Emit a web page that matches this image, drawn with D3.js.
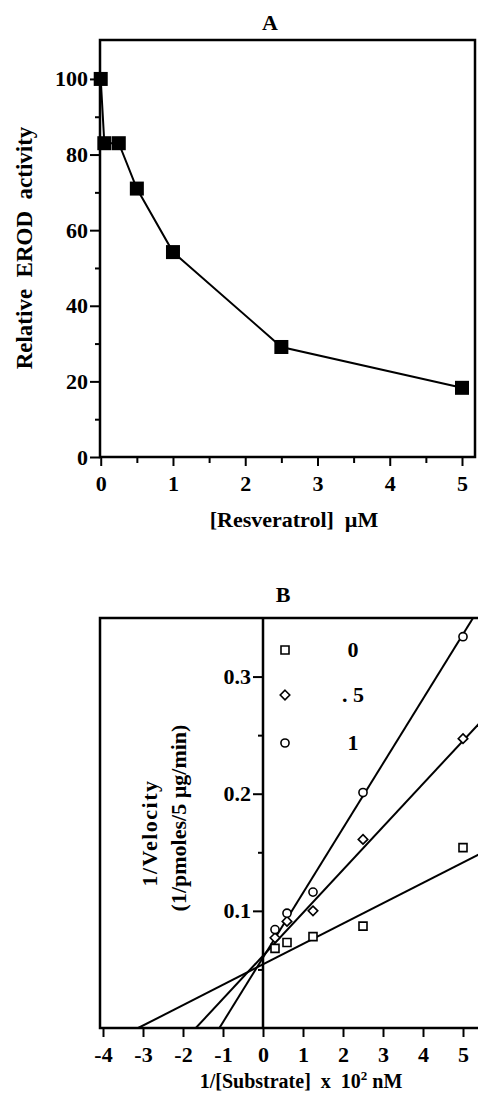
<!DOCTYPE html>
<html>
<head>
<meta charset="utf-8">
<script src="https://cdn.jsdelivr.net/npm/d3@7"></script>
<style>
  body { margin: 0; background: #fff; }
  text { font-family: "Liberation Serif", "Times New Roman", serif; font-weight: bold; fill: #000; white-space: pre; }
</style>
</head>
<body>
<svg id="fig" width="478" height="1094"></svg>
<script>
// ---- panel A data: EROD activity vs resveratrol
var resveratrolUM = [0, 0.05, 0.25, 0.5, 1, 2.5, 5];
var relativeErod  = [100, 83, 83, 71, 54.2, 29.1, 18.3];
var ticksAx = [0, 1, 2, 3, 4, 5];
var ticksAy = [0, 20, 40, 60, 80, 100];

// ---- panel B data: Lineweaver-Burk, 1/[S] x 10^2 nM
var invSubstrate = [0.3, 0.6, 1.25, 2.5, 5];
var vel0   = [0.068, 0.073, 0.078, 0.087, 0.154];
var vel05  = [0.077, 0.091, 0.100, 0.161, 0.247];
var vel1   = [0.084, 0.098, 0.116, 0.201, 0.334];
var seriesNames = ["0", ". 5", "1"];
// fitted lines: x intercept (-1/Km) and slope
var fitXInt  = [-3.12, -1.68, -1.09];
var fitSlope = [0.0174, 0.0367, 0.0552];
var ticksBx = [-4, -3, -2, -1, 0, 1, 2, 3, 4, 5];
var ticksBy = [0.1, 0.2, 0.3];

var svg = d3.select("#fig");

function styleTicks(g, size) {
  g.selectAll(".tick line").attr("stroke", "#000").attr("stroke-width", 2);
  g.selectAll(".tick text")
    .attr("font-size", size).attr("font-family", "Liberation Serif").attr("font-weight", "bold")
    .style("font-size", size + "px");
}

// ================= Panel A =================
var A = {left: 100, right: 475, top: 40, bottom: 457};
var xA = d3.scaleLinear().domain([-0.01, 5.18]).range([A.left, A.right]);
var yA = d3.scaleLinear().domain([0, 110.3]).range([A.bottom, A.top]);

var gA = svg.append("g");

// minor ticks
gA.append("g").attr("transform", "translate(" + A.left + ",0)")
  .call(d3.axisLeft(yA).tickValues([10, 30, 50, 70, 90]).tickSize(5).tickFormat(""))
  .call(function(g){ g.select(".domain").remove(); });
gA.append("g").attr("transform", "translate(0," + A.bottom + ")")
  .call(d3.axisBottom(xA).tickValues([0.5, 1.5, 2.5, 3.5, 4.5]).tickSize(6).tickFormat(""))
  .call(function(g){ g.select(".domain").remove(); });

// major ticks + labels
gA.append("g").attr("transform", "translate(" + A.left + ",0)")
  .call(d3.axisLeft(yA).tickValues(ticksAy).tickSize(10).tickPadding(2).tickFormat(d3.format("d")))
  .call(function(g){ g.select(".domain").remove(); });
gA.append("g").attr("transform", "translate(0," + A.bottom + ")")
  .call(d3.axisBottom(xA).tickValues(ticksAx).tickSize(9).tickPadding(9).tickFormat(d3.format("d")))
  .call(function(g){ g.select(".domain").remove(); });

styleTicks(gA, 22);

// frame
gA.append("rect")
  .attr("x", A.left).attr("y", A.top)
  .attr("width", A.right - A.left).attr("height", A.bottom - A.top)
  .attr("fill", "none").attr("stroke", "#000").attr("stroke-width", 2.5);

var lineA = d3.line()
  .x(function(d, i){ return xA(resveratrolUM[i]); })
  .y(function(d){ return yA(d); });

gA.append("path").datum(relativeErod)
  .attr("d", lineA).attr("fill", "none").attr("stroke", "#000").attr("stroke-width", 2);

var sqA = 14;
gA.selectAll("rect.pt").data(relativeErod).enter().append("rect")
  .attr("class", "pt")
  .attr("x", function(d, i){ return xA(resveratrolUM[i]) - sqA / 2; })
  .attr("y", function(d){ return yA(d) - sqA / 2; })
  .attr("width", sqA).attr("height", sqA)
  .attr("fill", "#000");

gA.append("text").attr("x", 270).attr("y", 30).attr("text-anchor", "middle")
  .style("font-size", "22px").text("A");
gA.append("text").attr("x", 294).attr("y", 527).attr("text-anchor", "middle")
  .style("font-size", "22px").text("[Resveratrol]  \u00B5M");
gA.append("text").attr("transform", "translate(32,248) rotate(-90)").attr("text-anchor", "middle")
  .style("font-size", "23px").text("Relative  EROD  activity");

// ================= Panel B =================
var B = {left: 100, right: 500, top: 618, bottom: 1028};
var xB = d3.scaleLinear().domain([-4.075, 5.925]).range([B.left, B.right]);
var yB = d3.scaleLinear().domain([0, 0.35]).range([B.bottom, B.top]);

var gB = svg.append("g");

gB.append("clipPath").attr("id", "clipB").append("rect")
  .attr("x", B.left).attr("y", B.top)
  .attr("width", B.right - B.left).attr("height", B.bottom - B.top);

// y axis sits at x = 0
gB.append("g").attr("transform", "translate(" + xB(0) + ",0)")
  .call(d3.axisLeft(yB).tickValues([0.05, 0.15, 0.25]).tickSize(5).tickFormat(""))
  .call(function(g){ g.select(".domain").remove(); });
gB.append("g").attr("transform", "translate(" + xB(0) + ",0)")
  .call(d3.axisLeft(yB).tickValues(ticksBy).tickSize(10).tickPadding(2).tickFormat(d3.format(".1f")))
  .call(function(g){ g.select(".domain").remove(); });
gB.append("g").attr("transform", "translate(0," + B.bottom + ")")
  .call(d3.axisBottom(xB).tickValues(ticksBx).tickSize(9).tickPadding(9).tickFormat(d3.format("d")))
  .call(function(g){ g.select(".domain").remove(); });

styleTicks(gB, 22);
gB.selectAll(".tick text").filter(function(d){ return d < 0; }).text(function(d){ return "-" + Math.abs(d); });

gB.append("rect")
  .attr("x", B.left).attr("y", B.top)
  .attr("width", B.right - B.left).attr("height", B.bottom - B.top)
  .attr("fill", "none").attr("stroke", "#000").attr("stroke-width", 2.5);
gB.append("line")
  .attr("x1", xB(0)).attr("x2", xB(0)).attr("y1", B.top).attr("y2", B.bottom)
  .attr("stroke", "#000").attr("stroke-width", 2.5);

// fitted lines
var fitLines = gB.append("g").attr("clip-path", "url(#clipB)");
fitXInt.forEach(function(x0, k){
  var x1 = xB.domain()[1];
  fitLines.append("line")
    .attr("x1", xB(x0)).attr("y1", yB(0))
    .attr("x2", xB(x1)).attr("y2", yB(fitSlope[k] * (x1 - x0)))
    .attr("stroke", "#000").attr("stroke-width", 2);
});

// markers
var sym = [
  d3.symbol().type(d3.symbolSquare).size(64),
  d3.symbol().type(d3.symbolDiamond2).size(58),
  d3.symbol().type(d3.symbolCircle).size(52)
];
var seriesB = [vel0, vel05, vel1];
seriesB.forEach(function(vals, k){
  gB.append("g").selectAll("path").data(vals).enter().append("path")
    .attr("d", sym[k])
    .attr("transform", function(d, i){ return "translate(" + xB(invSubstrate[i]) + "," + yB(d) + ")"; })
    .attr("fill", "#fff").attr("stroke", "#000").attr("stroke-width", 1.6);
});

// legend
var legY = [650, 695, 743];
seriesNames.forEach(function(name, k){
  gB.append("path").attr("d", sym[k])
    .attr("transform", "translate(285," + legY[k] + ")")
    .attr("fill", "#fff").attr("stroke", "#000").attr("stroke-width", 1.6);
  gB.append("text").attr("x", 353).attr("y", legY[k] + 7).attr("text-anchor", "middle")
    .style("font-size", "22px").text(name);
});

gB.append("text").attr("x", 283).attr("y", 602).attr("text-anchor", "middle")
  .style("font-size", "22px").text("B");
gB.append("text").attr("transform", "translate(157,833) rotate(-90)").attr("text-anchor", "middle")
  .style("font-size", "22px").style("letter-spacing", "1.5px").text("1/Velocity");
gB.append("text").attr("transform", "translate(186,818) rotate(-90)").attr("text-anchor", "middle")
  .style("font-size", "22px").text("(1/pmoles/5 \u00B5g/min)");

var xlabB = gB.append("text").attr("x", 301).attr("y", 1088).attr("text-anchor", "middle")
  .style("font-size", "20px");
xlabB.append("tspan").text("1/[Substrate]  x  10");
xlabB.append("tspan").attr("dy", -8).style("font-size", "13px").text("2");
xlabB.append("tspan").attr("dy", 8).text(" nM");
</script>
</body>
</html>
